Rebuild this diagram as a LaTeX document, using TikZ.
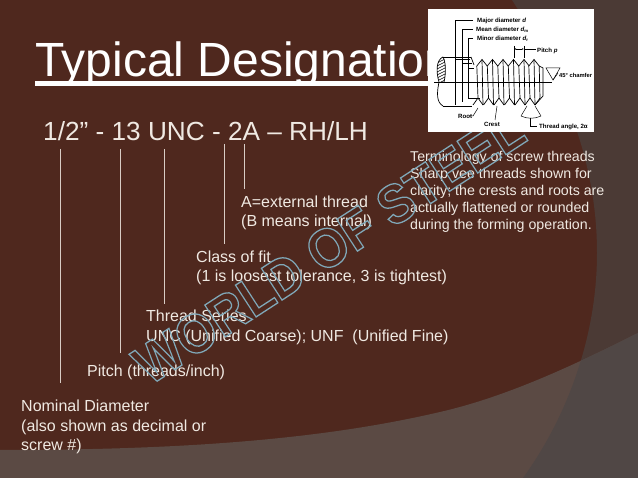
\documentclass[tikz,border=0pt]{standalone}
\usepackage{fontspec}
\usepackage{graphicx}
\setmainfont{Liberation Sans}
\usetikzlibrary{arrows.meta}
\definecolor{bgbrown}{HTML}{4F281E}
\definecolor{bggrey}{HTML}{5B4A44}
\definecolor{bgdark}{HTML}{4B3A35}
\definecolor{bgboth}{HTML}{504745}
\definecolor{txt}{HTML}{F0E9E2}
\tikzset{
  lbl/.style={anchor=base west,inner sep=0pt,text=txt,font=\fontsize{16}{19}\selectfont},
  small/.style={anchor=base west,inner sep=0pt,text=txt,font=\fontsize{14.2}{17}\selectfont},
  lead/.style={draw=txt!85!bgbrown,line width=0.9pt},
  tiny/.style={anchor=base west,inner sep=0pt,text=black,font=\fontsize{6.1}{6}\selectfont\bfseries},
  ink/.style={draw=black,line width=0.7pt},
  thin/.style={draw=black,line width=0.5pt}
}
\begin{document}
\begin{tikzpicture}[x=1pt,y=-1pt]
\useasboundingbox (0,0) rectangle (638,478);
\fill[bgbrown] (0,0) rectangle (638,478);
% background panels
\fill[bgdark] (512,0) .. controls (570,90) and (597,170) .. (597,253) .. controls (597,340) and (565,420) .. (523,478) -- (638,478) -- (638,0) -- cycle;
\begin{scope}
\clip (0,450) .. controls (180,450) and (320,440) .. (440,412) .. controls (510,396) and (580,362) .. (638,333) -- (638,478) -- (0,478) -- cycle;
\fill[bggrey] (0,330) rectangle (638,478);
\fill[bgboth] (597,253) .. controls (597,340) and (565,420) .. (523,478) -- (638,478) -- (638,253) -- cycle;
\end{scope}
% title
\node[anchor=base west,inner sep=0pt,text=white,font=\fontsize{48}{48}\selectfont] (title) at (35,77) {Typical Designation};
\fill[white] (35,81.4) rectangle (480,85.6);
% designation
\node[anchor=base west,inner sep=0pt,text=txt,font=\fontsize{26.2}{26}\selectfont] (desig) at (43,141) {1/2” - 13 UNC - 2A – RH/LH};
% labels
\node[lbl] (ext) at (241,208) {A=external thread};
\node[lbl] at (241,227) {(B means internal)};
\node[lbl] (fit) at (196,263) {Class of fit};
\node[lbl] at (196,282) {(1 is loosest tolerance, 3 is tightest)};
\node[lbl] (ser) at (146,322) {Thread Series};
\node[lbl] at (146,342) {UNC (Unified Coarse); UNF~~(Unified Fine)};
\node[lbl] (pit) at (87,377) {Pitch (threads/inch)};
\node[lbl] (nom) at (21,412) {Nominal Diameter};
\node[lbl] at (21,432) {(also shown as decimal or};
\node[lbl] at (21,451) {screw \#)};
\node[small] at (410,162) {Terminology of screw threads};
\node[small] at (410,179) {Sharp vee threads shown for};
\node[small] at (410,196) {clarity; the crests and roots are};
\node[small] at (410,213) {actually flattened or rounded};
\node[small] at (410,230) {during the forming operation.};
% leaders
\coordinate (a1) at (60,149);  \coordinate (b1) at (60,383);
\coordinate (a2) at (120,149); \coordinate (b2) at (120,353);
\coordinate (a3) at (164,149); \coordinate (b3) at (164,304);
\coordinate (a4) at (224,144); \coordinate (b4) at (224,244);
\coordinate (a5) at (244,144); \coordinate (b5) at (244,189);
\foreach \i in {1,...,5} \draw[lead] (a\i) -- (b\i);
% watermark
\node[rotate=33,inner sep=0pt,font=\fontsize{55}{55}\selectfont\bfseries] (mark) at (329,247) {\scalebox{0.92}[1]{\special{pdf:code q 1 Tr 1.3 w 0.5 0.66 0.72 RG}WORLD OF STEEL\special{pdf:code Q}}};
% picture panel
\fill[white] (428,9) rectangle (594,132);
\draw[ink] (443,57) -- (471,57) (443,106) -- (472,106);
\draw[ink] (443,57) .. controls (436,60) and (436,72) .. (439,82) .. controls (437,92) and (436,102) .. (443,106);
\draw[ink] (443,57) .. controls (446,62) and (446,74) .. (444,82);
\begin{scope}
\clip (443,57) .. controls (436,60) and (436,72) .. (439,82) -- (444,82) .. controls (446,74) and (446,62) .. (443,57);
\foreach \k in {0,...,10} \draw[thin] (435,58+3*\k) -- (447,52+3*\k);
\end{scope}
\draw[thin] (434,82) -- (552,82);
\draw[ink] (471,57) -- (474,65);
\foreach \x [count=\n] in {482,492.5,503,513.5,524,534} {
  \draw[ink] (\x-5.2,66) -- (\x,59.5) -- (\x+5.2,66);
  \draw[ink] (\x-9,105) -- (\x-4,98);
  \draw[ink] (\x-4,98) -- (\x+1,105) ;
  \draw[ink] (\x-5.2,66) -- (\x-4,98);
  \draw[ink] (\x,59.5) -- (\x+1,105);
}
\draw[ink] (539.2,66) -- (543,68) -- (543,96) -- (535,105);
\draw[ink] (539.2,66) -- (540,98) -- (535,105);
% dimension lines
\draw[thin] (473,20) -- (455,20) -- (455,105);
\draw[thin] (473,29) -- (462,29) -- (462,102);
\draw[thin] (473,38) -- (468,38) -- (468,98) -- (480,98);
\draw[thin] (455,59) -- (470,59) (462,63) -- (472,63) (468,68) -- (474,68);
\draw[thin,{Latex[length=2pt]}-{Latex[length=2pt]}] (514,49) -- (524,49);
\draw[thin] (514,46) -- (514,58) (524,46) -- (524,58) (524,49) -- (536,49);
\draw[thin] (546,68) -- (560,68) -- (553,80) -- cycle;
\draw[thin] (553,80) -- (558,73);
\draw[thin] (473,116) -- (478,108) (469,116) -- (473,116);
\draw[thin] (495,120) -- (497,106);
\draw[thin] (521,116) .. controls (527,119) and (535,119) .. (541,116);
\draw[thin] (521,116) -- (527,106) (541,116) -- (535,106);
\draw[thin] (530,118) -- (530,126) -- (537,126);
\node[tiny] at (477,23) {Major diameter \textit{d}};
\node[tiny] at (476,32) {Mean diameter \textit{d}\textsubscript{m}};
\node[tiny] at (477,41) {Minor diameter \textit{d}\textsubscript{r}};
\node[tiny] at (537,53) {Pitch \textit{p}};
\node[tiny,font=\fontsize{5.8}{6}\selectfont\bfseries] at (559,78) {45° chamfer};
\node[tiny] at (458,119) {Root};
\node[tiny] at (484,127) {Crest};
\node[tiny] at (539,129) {Thread angle, 2α};
\end{tikzpicture}
\end{document}
